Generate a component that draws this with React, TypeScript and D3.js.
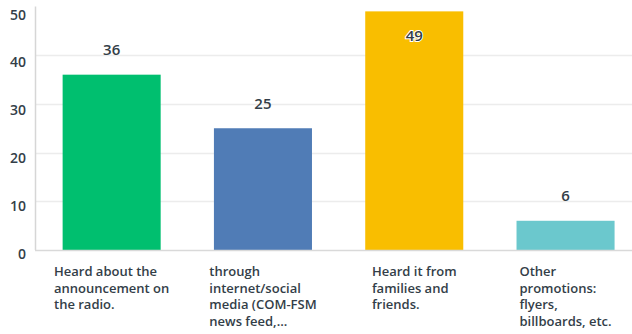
import React, { useEffect, useRef } from "react";
import * as d3 from "d3";

const categories: string[][] = [
  ["Heard about the", "announcement on", "the radio."],
  ["through", "internet/social", "media (COM-FSM", "news feed,..."],
  ["Heard it from", "families and", "friends."],
  ["Other", "promotions:", "flyers,", "billboards, etc."],
];
const values: number[] = [36, 25, 49, 6];
const colors: string[] = ["#00bf6f", "#507cb6", "#f9be00", "#6bc8cd"];
const yTicks: number[] = [0, 10, 20, 30, 40, 50];

const W = 632;
const H = 334;
const TEXT = "#333e48";
const FONT = "'Open Sans', 'Noto Sans', sans-serif";

export default function App() {
  const ref = useRef<SVGSVGElement | null>(null);

  useEffect(() => {
    document.body.style.margin = "0";
    const svg = d3.select(ref.current);
    svg.selectAll("*").remove();

    const left = 36;
    const baseY = 250;
    const topY = 6.5;
    const idx = values.map((_, i) => String(i));
    const x = d3
      .scaleBand<string>()
      .domain(idx)
      .range([left, left + 4 * 151.3])
      .paddingInner(0.352)
      .paddingOuter(0.176);
    const y = d3.scaleLinear().domain([0, 50]).range([baseY, topY]);
    const yLab = d3.scaleLinear().domain([0, 50]).range([259, 19.5]);

    // gridlines
    svg
      .append("g")
      .selectAll("line")
      .data(yTicks.filter((t) => t > 0 && t < 50))
      .join("line")
      .attr("x1", left)
      .attr("x2", W)
      .attr("y1", (d) => Math.round(y(d)) + 0.5)
      .attr("y2", (d) => Math.round(y(d)) + 0.5)
      .attr("stroke", "#ececec")
      .attr("stroke-width", 1.5);

    // tick labels
    svg
      .append("g")
      .selectAll("text")
      .data(yTicks)
      .join("text")
      .attr("x", 26)
      .attr("y", (d) => yLab(d))
      .attr("text-anchor", "end")
      .attr("font-family", FONT)
      .attr("font-size", 14)
      .attr("font-weight", 600)
      .attr("fill", TEXT)
      .text((d) => String(d));

    // bars
    svg
      .append("g")
      .selectAll("rect")
      .data(values)
      .join("rect")
      .attr("x", (_, i) => x(String(i))!)
      .attr("width", x.bandwidth())
      .attr("y", (d) => y(d))
      .attr("height", (d) => baseY - y(d))
      .attr("fill", (_, i) => colors[i]);

    // axis lines
    svg
      .append("line")
      .attr("x1", left - 0.5)
      .attr("x2", left - 0.5)
      .attr("y1", topY)
      .attr("y2", baseY)
      .attr("stroke", "#d6d6d6")
      .attr("stroke-width", 1.5);
    svg
      .append("line")
      .attr("x1", left - 1)
      .attr("x2", W)
      .attr("y1", baseY + 0.5)
      .attr("y2", baseY + 0.5)
      .attr("stroke", "#d9d9d9")
      .attr("stroke-width", 1.5);

    // value labels
    svg
      .append("g")
      .selectAll("text")
      .data(values)
      .join("text")
      .attr("x", (_, i) => x(String(i))! + x.bandwidth() / 2)
      .attr("y", (d) => {
        const t = y(d);
        return t - 20 < 22 ? t + 29.5 : t - 19.5;
      })
      .attr("text-anchor", "middle")
      .attr("font-family", FONT)
      .attr("font-size", 15)
      .attr("font-weight", 600)
      .attr("fill", TEXT)
      .attr("stroke", "#ffffff")
      .attr("stroke-width", (d) => (y(d) - 20 < 22 ? 2 : 0))
      .attr("paint-order", "stroke")
      .text((d) => String(d));

    // category labels
    categories.forEach((lines, i) => {
      const g = svg.append("g");
      const t = g
        .append("text")
        .attr("font-family", FONT)
        .attr("font-size", 13)
        .attr("font-weight", 600)
        .attr("fill", TEXT);
      lines.forEach((l, j) => {
        t.append("tspan")
          .attr("x", 0)
          .attr("y", 276 + j * 16.7)
          .text(l);
      });
      let maxW = 0;
      t.selectAll<SVGTSpanElement, unknown>("tspan").each(function () {
        maxW = Math.max(maxW, this.getComputedTextLength());
      });
      const cx = x(String(i))! + x.bandwidth() / 2;
      g.attr("transform", `translate(${cx - maxW / 2},0)`);
    });
  }, []);

  return (
    <svg
      ref={ref}
      width={W}
      height={H}
      style={{ display: "block", position: "absolute", left: 0, top: 0, background: "#fff" }}
    />
  );
}
